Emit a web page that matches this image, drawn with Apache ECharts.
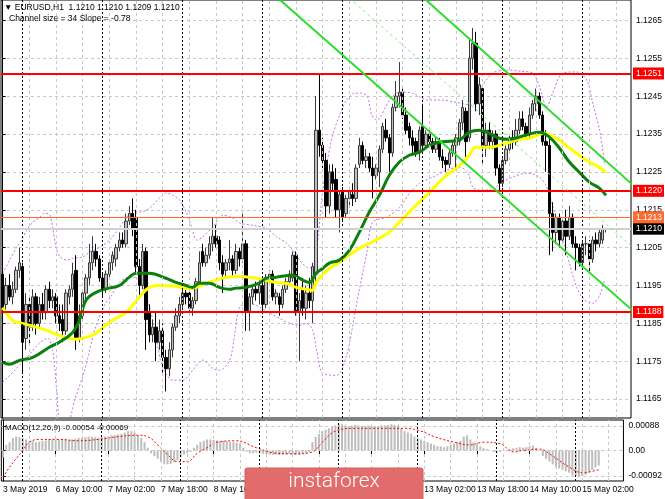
<!DOCTYPE html>
<html><head><meta charset="utf-8">
<script src="https://cdn.jsdelivr.net/npm/echarts@6/dist/echarts.min.js"></script>
<style>html,body{margin:0;padding:0;background:#fff}#c{width:665px;height:499px}</style>
</head><body><div id="c"></div>
<script>
// ---- data: H1 candles [open, close, low, high], bar 0 = 3 May 18:00 ----
const candles = [
[1.1198,1.1189,1.1185,1.1200],[1.1190,1.1195,1.1188,1.1197],[1.1195,1.1192,1.1191,1.1198],[1.1192,1.1194,1.1190,1.1196],
[1.1194,1.1199,1.1193,1.1200],[1.1199,1.1201,1.1197,1.1205],[1.1200,1.1180,1.1172,1.1201],[1.1181,1.1190,1.1178,1.1193],
[1.1190,1.1184,1.1179,1.1192],[1.1184,1.1192,1.1183,1.1194],[1.1192,1.1185,1.1182,1.1193],[1.1185,1.1190,1.1184,1.1192],
[1.1190,1.1188,1.1186,1.1193],[1.1188,1.1194,1.1186,1.1195],[1.1194,1.1191,1.1189,1.1196],[1.1191,1.1192,1.1189,1.1194],
[1.1192,1.1187,1.1185,1.1193],[1.1187,1.1185,1.1183,1.1190],[1.1186,1.1183,1.1180,1.1190],[1.1183,1.1193,1.1182,1.1194],
[1.1192,1.1194,1.1190,1.1195],[1.1194,1.1198,1.1192,1.1201],[1.1199,1.1181,1.1178,1.1203],[1.1181,1.1187,1.1180,1.1190],
[1.1187,1.1193,1.1186,1.1194],[1.1193,1.1197,1.1191,1.1198],[1.1197,1.1201,1.1195,1.1206],[1.1201,1.1204,1.1199,1.1208],
[1.1204,1.1202,1.1200,1.1206],[1.1202,1.1197,1.1196,1.1203],[1.1197,1.1194,1.1192,1.1198],[1.1194,1.1198,1.1193,1.1199],
[1.1198,1.1201,1.1197,1.1202],[1.1201,1.1203,1.1199,1.1204],[1.1202,1.1205,1.1200,1.1206],[1.1205,1.1207,1.1204,1.1209],
[1.1207,1.1206,1.1205,1.1209],[1.1206,1.1212,1.1205,1.1214],[1.1212,1.1214,1.1211,1.1216],[1.1214,1.1210,1.1208,1.1218],
[1.1213,1.1200,1.1198,1.1215],[1.1200,1.1195,1.1192,1.1202],[1.1195,1.1204,1.1194,1.1206],[1.1204,1.1186,1.1178,1.1205],
[1.1188,1.1182,1.1180,1.1190],[1.1182,1.1184,1.1180,1.1186],[1.1184,1.1180,1.1175,1.1188],[1.1180,1.1183,1.1178,1.1186],
[1.1183,1.1176,1.1172,1.1185],[1.1176,1.1173,1.1167,1.1178],[1.1173,1.1178,1.1171,1.1180],[1.1178,1.1184,1.1176,1.1185],
[1.1184,1.1187,1.1183,1.1189],[1.1187,1.1190,1.1185,1.1192],[1.1190,1.1193,1.1189,1.1194],[1.1193,1.1192,1.1190,1.1195],
[1.1193,1.1189,1.1187,1.1194],[1.1189,1.1191,1.1187,1.1192],[1.1191,1.1196,1.1190,1.1197],[1.1196,1.1201,1.1195,1.1204],
[1.1204,1.1201,1.1200,1.1206],[1.1201,1.1203,1.1200,1.1205],[1.1203,1.1206,1.1202,1.1208],[1.1206,1.1208,1.1204,1.1213],
[1.1208,1.1206,1.1205,1.1211],[1.1207,1.1201,1.1199,1.1208],[1.1201,1.1198,1.1193,1.1203],[1.1199,1.1201,1.1197,1.1202],
[1.1201,1.1202,1.1199,1.1207],[1.1202,1.1199,1.1197,1.1203],[1.1199,1.1204,1.1198,1.1206],[1.1204,1.1202,1.1200,1.1205],
[1.1202,1.1206,1.1201,1.1214],[1.1206,1.1188,1.1183,1.1207],[1.1188,1.1192,1.1183,1.1193],[1.1192,1.1194,1.1190,1.1195],
[1.1194,1.1193,1.1191,1.1196],[1.1193,1.1195,1.1190,1.1197],[1.1195,1.1190,1.1188,1.1196],[1.1190,1.1197,1.1189,1.1198],
[1.1197,1.1198,1.1195,1.1199],[1.1198,1.1192,1.1191,1.1199],[1.1192,1.1193,1.1190,1.1194],[1.1192,1.1190,1.1187,1.1193],
[1.1190,1.1194,1.1189,1.1195],[1.1194,1.1196,1.1193,1.1197],[1.1196,1.1198,1.1195,1.1199],[1.1197,1.1203,1.1196,1.1204],
[1.1203,1.1188,1.1187,1.1204],[1.1188,1.1191,1.1175,1.1193],[1.1194,1.1189,1.1187,1.1197],[1.1189,1.1193,1.1186,1.1195],
[1.1193,1.1191,1.1189,1.1197],[1.1191,1.1200,1.1185,1.1201],[1.1198,1.1236,1.1195,1.1245],[1.1236,1.1232,1.1229,1.1251],
[1.1232,1.1228,1.1226,1.1234],[1.1228,1.1216,1.1213,1.1230],[1.1216,1.1225,1.1214,1.1227],[1.1225,1.1222,1.1220,1.1227],
[1.1223,1.1215,1.1213,1.1226],[1.1215,1.1219,1.1209,1.1220],[1.1220,1.1213,1.1212,1.1221],[1.1214,1.1218,1.1213,1.1219],
[1.1218,1.1220,1.1216,1.1221],[1.1219,1.1218,1.1216,1.1222],[1.1218,1.1226,1.1217,1.1227],[1.1227,1.1232,1.1226,1.1234],
[1.1232,1.1228,1.1227,1.1233],[1.1228,1.1229,1.1226,1.1231],[1.1229,1.1226,1.1225,1.1230],[1.1226,1.1224,1.1218,1.1229],
[1.1224,1.1226,1.1223,1.1227],[1.1225,1.1231,1.1221,1.1232],[1.1231,1.1237,1.1230,1.1238],[1.1236,1.1234,1.1233,1.1239],
[1.1234,1.1230,1.1225,1.1235],[1.1230,1.1242,1.1229,1.1243],[1.1242,1.1245,1.1241,1.1249],[1.1245,1.1246,1.1242,1.1254],
[1.1246,1.1240,1.1239,1.1247],[1.1240,1.1236,1.1235,1.1242],[1.1237,1.1234,1.1232,1.1238],[1.1234,1.1232,1.1230,1.1236],
[1.1233,1.1230,1.1229,1.1234],[1.1230,1.1236,1.1228,1.1237],[1.1237,1.1232,1.1231,1.1243],[1.1232,1.1235,1.1231,1.1236],
[1.1235,1.1233,1.1232,1.1236],[1.1233,1.1231,1.1230,1.1234],[1.1231,1.1233,1.1230,1.1234],[1.1233,1.1229,1.1228,1.1234],
[1.1229,1.1228,1.1226,1.1231],[1.1228,1.1227,1.1225,1.1229],[1.1227,1.1230,1.1226,1.1231],[1.1230,1.1232,1.1229,1.1233],
[1.1232,1.1234,1.1226,1.1235],[1.1233,1.1238,1.1232,1.1239],[1.1238,1.1242,1.1236,1.1244],[1.1241,1.1233,1.1229,1.1242],
[1.1234,1.1255,1.1233,1.1260],[1.1255,1.1259,1.1252,1.1263],[1.1259,1.1243,1.1241,1.1262],[1.1243,1.1248,1.1240,1.1250],
[1.1247,1.1232,1.1227,1.1248],[1.1232,1.1236,1.1229,1.1238],[1.1236,1.1233,1.1231,1.1238],[1.1233,1.1235,1.1231,1.1236],
[1.1235,1.1226,1.1224,1.1236],[1.1226,1.1222,1.1220,1.1227],[1.1222,1.1228,1.1221,1.1229],[1.1228,1.1231,1.1227,1.1232],
[1.1231,1.1234,1.1230,1.1235],[1.1234,1.1233,1.1231,1.1236],[1.1233,1.1236,1.1232,1.1239],[1.1236,1.1239,1.1235,1.1241],
[1.1239,1.1237,1.1236,1.1241],[1.1237,1.1235,1.1234,1.1238],[1.1235,1.1240,1.1234,1.1242],[1.1240,1.1243,1.1239,1.1244],
[1.1243,1.1245,1.1241,1.1247],[1.1245,1.1240,1.1239,1.1246],[1.1240,1.1233,1.1232,1.1241],[1.1233,1.1232,1.1225,1.1236],
[1.1232,1.1214,1.1203,1.1234],[1.1214,1.1209,1.1204,1.1217],[1.1209,1.1213,1.1206,1.1214],[1.1213,1.1207,1.1205,1.1214],
[1.1207,1.1212,1.1206,1.1213],[1.1212,1.1208,1.1203,1.1215],[1.1208,1.1213,1.1207,1.1216],[1.1213,1.1206,1.1205,1.1214],
[1.1206,1.1205,1.1199,1.1208],[1.1205,1.1201,1.1200,1.1206],[1.1201,1.1206,1.1200,1.1207],[1.1206,1.1206,1.1203,1.1208],
[1.1206,1.1202,1.1198,1.1207],[1.1202,1.1207,1.1201,1.1208],[1.1207,1.1206,1.1204,1.1209],[1.1206,1.1209,1.1205,1.1210],
[1.1207,1.1210,1.1206,1.1211],[1.1210,1.1210,1.1209,1.1210]
];
// moving averages [bar, price]
const maGreen = [[0,1.11747],[2,1.11742],[5,1.11752],[9,1.11760],[14,1.11787],[17,1.11800],[21,1.11826],[23,1.11858],[25,1.11911],[28,1.11932],[32,1.11943],[35,1.11950],[38,1.11972],[40,1.11982],[44,1.11982],[49,1.11969],[52,1.11958],[55,1.11950],[57,1.11945],[59,1.11956],[62,1.11956],[65,1.11945],[68,1.11940],[70,1.11943],[73,1.11945],[77,1.11956],[79,1.11969],[82,1.11972],[87,1.11977],[90,1.11964],[92,1.11958],[94,1.11982],[96,1.11995],[98,1.12009],[101,1.12017],[104,1.12043],[107,1.12091],[110,1.12144],[113,1.12188],[116,1.12241],[119,1.12276],[122,1.12294],[125,1.12302],[128,1.12320],[131,1.12328],[134,1.12331],[137,1.12334],[140,1.12355],[143,1.12360],[146,1.12352],[149,1.12339],[152,1.12336],[155,1.12342],[158,1.12350],[161,1.12355],[164,1.12342],[167,1.12313],[170,1.12276],[173,1.12249],[176,1.12223],[179,1.12207],[181,1.12188]];
const maYellow = [[0,1.11892],[3,1.11858],[6,1.11850],[8,1.11845],[13,1.11832],[17,1.11818],[22,1.11808],[25,1.11813],[28,1.11824],[32,1.11853],[37,1.11879],[41,1.11919],[44,1.11945],[47,1.11950],[52,1.11948],[55,1.11942],[58,1.11945],[61,1.11956],[64,1.11964],[67,1.11972],[71,1.11974],[76,1.11969],[79,1.11964],[82,1.11958],[85,1.11956],[88,1.11945],[91,1.11940],[93,1.11937],[94,1.11958],[98,1.11995],[101,1.12011],[104,1.12030],[107,1.12048],[110,1.12061],[113,1.12075],[116,1.12091],[119,1.12117],[122,1.12144],[125,1.12170],[128,1.12196],[131,1.12223],[134,1.12247],[137,1.12265],[140,1.12294],[142,1.12315],[146,1.12315],[149,1.12320],[152,1.12328],[155,1.12336],[158,1.12339],[163,1.12352],[164,1.12347],[167,1.12334],[170,1.12313],[173,1.12294],[176,1.12276],[179,1.12262],[181,1.12249]];
// envelope bands [bar, price]
const bandUpper = [[0,1.11982],[2.1,1.12017],[4.2,1.12051],[5.7,1.12070],[7.2,1.12096],[9,1.12117],[11.1,1.12130],[12.6,1.12141],[14.1,1.12136],[15,1.12104],[15.9,1.12056],[17.1,1.12027],[19.2,1.12017],[21,1.12022],[24,1.12025],[26.1,1.12038],[29.1,1.12051],[32.1,1.12070],[35.1,1.12104],[37.2,1.12130],[39,1.12149],[41.1,1.12144],[43.2,1.12149],[45,1.12162],[47.1,1.12181],[49.2,1.12194],[51,1.12189],[53.1,1.12175],[55.2,1.12141],[56.7,1.12104],[58.2,1.12070],[60,1.12078],[63,1.12104],[66,1.12136],[69,1.12128],[71.1,1.12115],[75,1.12109],[79.2,1.12101],[82.2,1.12078],[85.2,1.12062],[87,1.12043],[89.1,1.12017],[91.2,1.11998],[93,1.11996],[94.5,1.12070],[95.7,1.12175],[97.2,1.12268],[99,1.12347],[101.1,1.12400],[103.2,1.12440],[105.6,1.12458],[107.7,1.12458],[109.5,1.12448],[110.7,1.12400],[112.2,1.12387],[116.1,1.12440],[119.1,1.12461],[123,1.12458],[127.2,1.12440],[131.1,1.12440],[137.1,1.12432],[141,1.12426],[143.1,1.12466],[147,1.12511],[151.2,1.12519],[155.1,1.12516],[159,1.12511],[161.1,1.12474],[163.2,1.12421],[165,1.12458],[168,1.12511],[172.2,1.12514],[175.2,1.12493],[177,1.12432],[179.1,1.12360],[180.6,1.12268]];
const bandLower = [[0,1.11694],[3.6,1.11726],[7.2,1.11760],[11.1,1.11798],[13.5,1.11811],[15,1.11779],[16.2,1.11673],[17.4,1.11581],[19.2,1.11581],[21.6,1.11647],[24.6,1.11726],[27.6,1.11832],[30.6,1.11898],[32.7,1.11924],[35.1,1.11959],[38.1,1.11972],[41.1,1.11964],[44.1,1.11893],[46.2,1.11805],[48,1.11734],[51,1.11700],[54,1.11700],[57,1.11726],[60,1.11753],[63,1.11731],[65.1,1.11726],[68.1,1.11753],[69.6,1.11819],[71.1,1.11893],[74.1,1.11903],[77.1,1.11893],[80.1,1.11877],[83.1,1.11863],[86.1,1.11850],[89.1,1.11845],[91.2,1.11850],[93,1.11832],[94.2,1.11779],[96,1.11718],[100.2,1.11713],[103.2,1.11766],[106.2,1.11903],[109.2,1.12035],[111,1.12117],[115.2,1.12130],[119.1,1.12157],[122.1,1.12194],[125.1,1.12220],[129,1.12236],[133.2,1.12255],[137.1,1.12263],[139.5,1.12249],[141,1.12210],[143.1,1.12202],[147,1.12202],[149.1,1.12220],[153,1.12236],[157.2,1.12247],[161.1,1.12236],[163.2,1.12210],[166.2,1.12123],[169.2,1.12035],[172.2,1.11945],[174.6,1.11911],[177,1.11903],[179.1,1.11924],[180.6,1.11964]];
// regression channel (two ends of each line)
const channelUpper = [[120,1.12759],[190,1.12208]];
const channelMid = [[100,1.12740],[190,1.12043]];
const channelLower = [[80,1.12729],[190,1.11876]];
// horizontal levels
const redLevels = [1.1251, 1.1220, 1.1188];
const orangeLevel = 1.1213;
const lastPrice = 1.1210;
const priceTicks = [1.1165,1.1175,1.1185,1.1195,1.1205,1.1215,1.1225,1.1235,1.1245,1.1255,1.1265];
// MACD
const macdHist = [
-0.00025,0.0002,0.0003,0.00045,0.0005,0.00048,0.00045,0.0004,0.00035,0.00035,0.0003,0.00032,0.00035,0.00036,
0.0004,0.0004,0.00038,0.0004,0.00042,0.0004,0.00038,0.0004,0.00042,0.00045,0.00046,0.00048,0.0005,0.0005,0.00048,0.00046,
0.00048,0.0005,0.00052,0.00055,0.00055,0.00058,0.0006,0.00065,0.0007,0.0007,0.00065,0.00055,0.00045,0.0003,
0.0001,-0.0001,-0.0002,-0.0003,-0.0004,-0.0005,-0.0005,-0.00048,-0.00042,-0.00035,-0.00025,-0.00015,-0.0001,-0.00005,0.0001,
0.0002,0.0003,0.00035,0.0004,0.0004,0.00038,0.00036,0.00035,0.00035,0.00033,0.0003,0.0003,0.00028,0.00025,0.0001,
-0.00005,-0.0001,-0.0001,-0.00008,-0.0001,-0.00012,-0.00012,-0.00014,-0.00015,-0.00015,-0.00016,-0.00015,-0.00014,-0.00012,-0.00014,-0.00016,-0.00015,-0.00012,-0.0001,-0.00005,
0.0003,0.0005,0.0006,0.0007,0.00075,0.0008,0.00085,0.0009,0.00095,0.00095,0.0009,0.00088,0.0009,0.00092,0.0009,0.00088,0.00088,0.0009,0.00088,0.00085,0.00088,0.0009,
0.0009,0.00092,0.00095,0.00092,0.00088,0.0008,0.0007,0.00065,0.0006,0.0005,0.00045,0.0004,0.00035,0.0003,0.00025,0.0002,0.00015,0.00015,0.00012,0.00015,
0.0002,0.00025,0.0003,0.00035,0.0005,0.00055,0.0004,0.0003,0.0002,0.00015,0.0001,0.00005,0,-0.00005,-0.0001,
-0.00005,0,0.00002,0.00005,0.00008,0.0001,0.00012,0.0001,0.00012,0.00015,0.00018,0.0001,0.00002,-0.0002,-0.0003,
-0.0004,-0.0005,-0.0006,-0.00065,-0.0007,-0.00075,-0.0008,-0.0009,-0.00092,-0.00095,-0.00092,-0.00088,-0.0008,-0.0007,-0.0006,-0.00054
];
const macdSignal = [[0,-0.00097],[2,-0.0006],[6,0.0],[8,0.0003],[11,0.0004],[17,0.0004],[23,0.00035],[29,0.0004],[35,0.0005],[41,0.00055],[44,0.0005],[47,0.0002],[50,-0.00015],[53,-0.0004],[56,-0.0004],[59,-0.0001],[62,0.0001],[65,0.0003],[71,0.00035],[77,0.0001],[83,-0.0001],[89,-0.00012],[94,-0.00005],[97,0.0003],[101,0.0007],[107,0.0008],[116,0.0008],[122,0.0008],[127,0.0007],[131,0.0005],[137,0.0003],[142,0.0002],[146,0.0003],[151,0.00025],[155,-0.00005],[158,0],[163,0.00005],[167,-0.0002],[172,-0.0006],[176,-0.0008],[181,-0.00069]];
const macdTicks = [-0.00092, 0, 0.00088];
// time axis
const tickBars = [0,16,32,48,64,80,96,112,128,144,160,176];
const tickLabels = ['3 May 2019','6 May 10:00','7 May 02:00','7 May 18:00','8 May 10:00','9 May 02:00','9 May 18:00','10 May 10:00','13 May 02:00','13 May 18:00','14 May 10:00','15 May 02:00'];
const gridBars = [8,16,24,32,40,48,56,64,72,80,88,96,104,112,120,128,136,144,152,160,168,176,184];
const separatorBars = [6,30,54,78,102,126,150,174];
const totalSlots = 189;

const FONT = 'Liberation Sans';
const cats = Array.from({length: totalSlots}, (_, i) => String(i));
const chart = echarts.init(document.getElementById('c'), null, {renderer: 'canvas'});

const vLines = () => [
  ...gridBars.map(k => ({xAxis: k, lineStyle: {color: '#c8c8c8', type: [3, 3], width: 1}})),
  ...separatorBars.map(k => ({xAxis: k, lineStyle: {color: '#000', type: [2, 2], width: 1}}))
];
const lvlLabel = (bg, txt) => ({show: true, position: 'end', distance: 2, formatter: txt,
  color: '#fff', backgroundColor: bg, padding: [2, 2, 1, 3], fontSize: 8.5, fontFamily: FONT});

chart.setOption({
  animation: false,
  backgroundColor: '#fff',
  grid: [
    {left: 1, top: 0, width: 630, height: 418, show: true, borderColor: '#000', borderWidth: 1},
    {left: 1, top: 420, width: 630, height: 61, show: true, borderColor: '#000', borderWidth: 1}
  ],
  xAxis: [
    {type: 'category', gridIndex: 0, data: cats, boundaryGap: true, axisLine: {show: false}, axisTick: {show: false}, axisLabel: {show: false}, splitLine: {show: false}},
    {type: 'value', gridIndex: 0, min: -0.5, max: totalSlots - 0.5, show: false},
    {type: 'category', gridIndex: 1, data: cats, boundaryGap: true,
      axisLine: {show: false},
      axisTick: {show: true, alignWithLabel: true, length: 4, interval: (i) => tickBars.includes(i), lineStyle: {color: '#000'}},
      axisLabel: {show: true, interval: (i) => tickBars.includes(i), formatter: (v) => tickLabels[tickBars.indexOf(Number(v))] || '',
        align: 'left', margin: 4, fontSize: 8.5, fontFamily: FONT, color: '#000'},
      splitLine: {show: false}},
    {type: 'value', gridIndex: 1, min: -0.5, max: totalSlots - 0.5, show: false}
  ],
  yAxis: [
    {type: 'value', gridIndex: 0, position: 'right', min: 1.1160, max: 1.12704, scale: true,
      axisLine: {show: true, lineStyle: {color: '#000'}},
      axisTick: {show: true, length: 3, customValues: priceTicks, lineStyle: {color: '#000'}},
      axisLabel: {customValues: priceTicks, formatter: (v) => v.toFixed(4), fontSize: 8.5, fontFamily: FONT, color: '#000', margin: 5, padding: [3, 0, 0, 0]},
      splitLine: {show: true, lineStyle: {color: '#c8c8c8', type: [3, 3]}}},
    {type: 'value', gridIndex: 1, position: 'right', min: -0.0011, max: 0.0011,
      axisLine: {show: true, lineStyle: {color: '#000'}},
      axisTick: {show: true, length: 3, customValues: macdTicks, lineStyle: {color: '#000'}},
      axisLabel: {customValues: macdTicks, formatter: (v) => Math.abs(v) < 1e-9 ? '0.00' : v.toFixed(5), fontSize: 8.5, fontFamily: FONT, color: '#000', margin: 5},
      splitLine: {show: true, lineStyle: {color: '#c8c8c8', type: [3, 3]}}}
  ],
  series: [
    {type: 'line', xAxisIndex: 1, yAxisIndex: 0, data: [], z: 1, silent: true,
      markLine: {symbol: 'none', silent: true, precision: 6, label: {show: false}, data: vLines()}},
    {type: 'line', xAxisIndex: 3, yAxisIndex: 1, data: [], z: 1, silent: true,
      markLine: {symbol: 'none', silent: true, precision: 6, label: {show: false}, data: vLines()}},
    {type: 'line', xAxisIndex: 1, yAxisIndex: 0, data: bandUpper, smooth: 0.3, symbol: 'none', z: 2,
      lineStyle: {color: '#bf73e6', width: 1, type: [2, 2]}},
    {type: 'line', xAxisIndex: 1, yAxisIndex: 0, data: bandLower, smooth: 0.3, symbol: 'none', z: 2,
      lineStyle: {color: '#bf73e6', width: 1, type: [2, 2]}},
    {type: 'candlestick', xAxisIndex: 0, yAxisIndex: 0, data: candles, barWidth: 3, z: 3,
      itemStyle: {color: '#c0c0c0', color0: '#000', borderColor: '#3a3a3a', borderColor0: '#000', borderWidth: 1},
      markLine: {symbol: 'none', silent: true, precision: 6, data: [
        {yAxis: lastPrice, lineStyle: {color: '#d0d0d0', width: 2, type: 'solid'}, label: lvlLabel('#000', lastPrice.toFixed(4))},
        {yAxis: orangeLevel, lineStyle: {color: '#ff6a30', width: 1, type: 'solid'}, label: lvlLabel('#ff6a30', orangeLevel.toFixed(4))},
        ...redLevels.map(v => ({yAxis: v, lineStyle: {color: '#ff0000', width: 2, type: 'solid'}, label: lvlLabel('#ff0000', v.toFixed(4))}))
      ]}},
    {type: 'line', xAxisIndex: 1, yAxisIndex: 0, data: maYellow, smooth: 0.4, symbol: 'none', z: 4,
      lineStyle: {color: '#ffff00', width: 3}},
    {type: 'line', xAxisIndex: 1, yAxisIndex: 0, data: maGreen, smooth: 0.4, symbol: 'none', z: 4,
      lineStyle: {color: '#0b800b', width: 3}},
    {type: 'line', xAxisIndex: 1, yAxisIndex: 0, data: channelUpper, symbol: 'none', z: 5,
      lineStyle: {color: '#2bde2b', width: 2}},
    {type: 'line', xAxisIndex: 1, yAxisIndex: 0, data: channelLower, symbol: 'none', z: 5,
      lineStyle: {color: '#2bde2b', width: 2}},
    {type: 'line', xAxisIndex: 1, yAxisIndex: 0, data: channelMid, symbol: 'none', z: 5,
      lineStyle: {color: '#7ef07e', width: 1, type: [3, 3]}},
    {type: 'bar', xAxisIndex: 2, yAxisIndex: 1, data: macdHist, barWidth: 2, z: 3,
      itemStyle: {color: '#bdbdbd'}},
    {type: 'line', xAxisIndex: 3, yAxisIndex: 1, data: macdSignal, smooth: 0.4, symbol: 'none', z: 4,
      lineStyle: {color: '#ff0000', width: 1, type: [2, 2]}}
  ],
  graphic: [
    {type: 'text', left: 4, top: 3, z: 50, style: {text: '▼ EURUSD,H1  1.1210 1.1210 1.1209 1.1210', fill: '#000', font: '8.5px "Liberation Sans"'}},
    {type: 'text', left: 9, top: 14, z: 50, style: {text: 'Channel size = 34 Slope = -0.78', fill: '#000', font: '8.5px "Liberation Sans"'}},
    {type: 'text', left: 5, top: 424, z: 50, style: {text: 'MACD(12,26,9) -0.00054 -0.00069', fill: '#000', font: '8px "Liberation Sans"'}},
    {type: 'rect', z: 60, shape: {x: 245, y: 468, width: 178, height: 34, r: 2}, style: {fill: '#e26b6b', stroke: '#d65e5e', lineWidth: 1}},
    {type: 'text', z: 61, style: {text: 'instaforex', x: 334, y: 482, align: 'center', verticalAlign: 'middle', fill: '#fff', font: '300 21px Roboto'}}
  ]
});
</script>
</body></html>
